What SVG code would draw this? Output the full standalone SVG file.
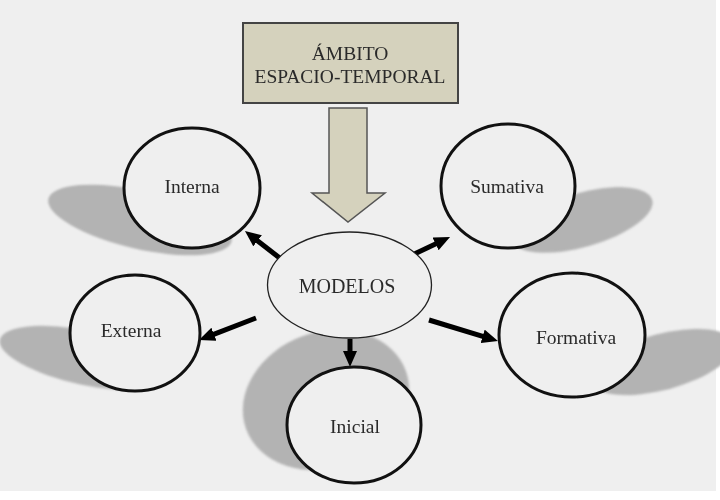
<svg xmlns="http://www.w3.org/2000/svg" width="720" height="500" viewBox="0 0 720 500">
<defs>
<style>
.lbl{font-family:"Liberation Serif","Times New Roman",serif;font-size:19.5px;fill:#2a2a2a;text-anchor:middle}
.node{fill:#efefef;stroke:#111;stroke-width:3}
.shadow{fill:#b3b3b3}
.conn{stroke:#000;stroke-width:5;fill:none;marker-end:url(#ah)}
</style>
<marker id="ah" viewBox="0 0 16 14" markerWidth="16" markerHeight="14" markerUnits="userSpaceOnUse" refX="1" refY="7" orient="auto">
<path d="M0,0 L16,7 L0,14 z" fill="#000"/>
</marker>
<filter id="soft" x="-10%" y="-10%" width="120%" height="120%"><feGaussianBlur stdDeviation="0.8"/></filter>
</defs>
<rect x="0" y="0" width="720" height="500" fill="#ffffff"/>
<rect x="0" y="0" width="716" height="491" fill="#efefef"/>

<g id="shadows" filter="url(#soft)">
<ellipse class="shadow" cx="140" cy="220" rx="94" ry="29" transform="rotate(13 140 220)"/>
<ellipse class="shadow" cx="86" cy="358" rx="88" ry="27" transform="rotate(12 86 358)"/>
<ellipse class="shadow" cx="582" cy="220" rx="73" ry="27" transform="rotate(-16 582 220)"/>
<ellipse class="shadow" cx="662" cy="362" rx="74" ry="28" transform="rotate(-15 662 362)"/>
<ellipse class="shadow" cx="326" cy="400" rx="85" ry="68" transform="rotate(-20 326 400)"/>
</g>

<g id="ambito">
<rect x="243" y="23" width="215" height="80" fill="#d5d2bd" stroke="#444" stroke-width="2"/>
<text class="lbl" x="350" y="60">ÁMBITO</text>
<text class="lbl" x="350" y="83">ESPACIO-TEMPORAL</text>
</g>

<g id="connectors">
<polygon points="329,108 367,108 367,193 385,193 348,222 312,193 329,193" fill="#d5d2bd" stroke="#555" stroke-width="1.5"/>
<line class="conn" x1="281" y1="259" x2="256.8" y2="240.2"/>
<line class="conn" x1="256" y1="318" x2="213" y2="334.6"/>
<line class="conn" x1="408" y1="257" x2="436.5" y2="243.5"/>
<line class="conn" x1="429" y1="320" x2="483.6" y2="336.6"/>
<line class="conn" x1="350" y1="339" x2="350" y2="352" stroke-width="4"/>
</g>

<g id="interna">
<ellipse class="node" cx="192" cy="188" rx="68" ry="60"/>
<text class="lbl" x="192" y="193">Interna</text>
</g>
<g id="externa">
<ellipse class="node" cx="135" cy="333" rx="65" ry="58"/>
<text class="lbl" x="131" y="337">Externa</text>
</g>
<g id="sumativa">
<ellipse class="node" cx="508" cy="186" rx="67" ry="62"/>
<text class="lbl" x="507" y="193">Sumativa</text>
</g>
<g id="formativa">
<ellipse class="node" cx="572" cy="335" rx="73" ry="62"/>
<text class="lbl" x="576" y="344">Formativa</text>
</g>
<g id="inicial">
<ellipse class="node" cx="354" cy="425" rx="67" ry="58"/>
<text class="lbl" x="355" y="433">Inicial</text>
</g>
<g id="modelos">
<ellipse cx="349.5" cy="285" rx="82" ry="53" fill="#efefef" stroke="#222" stroke-width="1.3"/>
<text class="lbl" x="347" y="293" style="font-size:20px">MODELOS</text>
</g>
</svg>
